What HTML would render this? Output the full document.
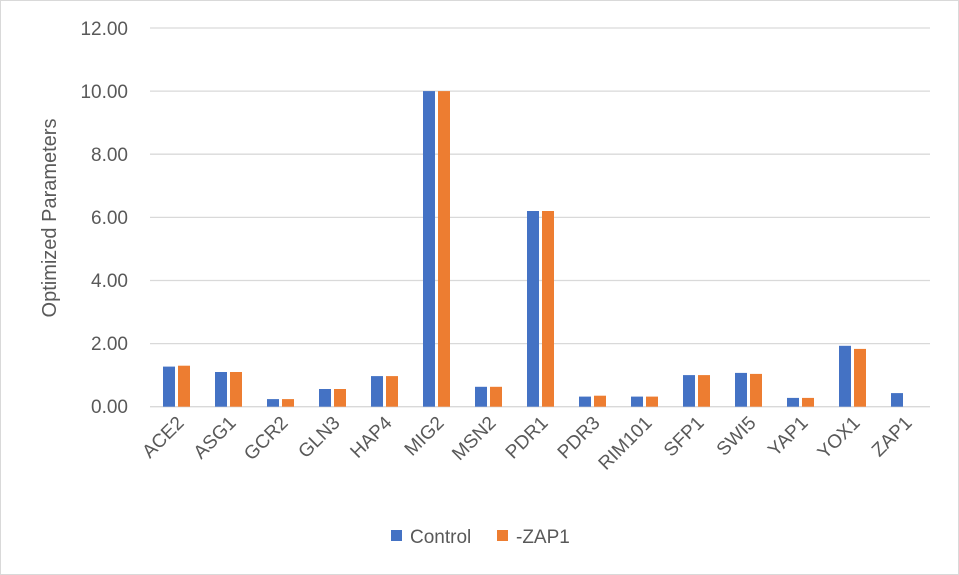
<!DOCTYPE html><html><head><meta charset="utf-8"><style>body{margin:0;background:#fff}svg{display:block}text{font-family:"Liberation Sans",sans-serif;fill:#595959}</style></head><body>
<svg width="959" height="575" xmlns="http://www.w3.org/2000/svg">
<rect x="0.5" y="0.5" width="958" height="574" fill="#fff" stroke="#d9d9d9"/>
<g stroke="#d9d9d9" stroke-width="1.3">
<line x1="150" x2="930" y1="28" y2="28"/><line x1="150" x2="930" y1="91.1" y2="91.1"/><line x1="150" x2="930" y1="154.2" y2="154.2"/><line x1="150" x2="930" y1="217.4" y2="217.4"/><line x1="150" x2="930" y1="280.5" y2="280.5"/><line x1="150" x2="930" y1="343.6" y2="343.6"/><line x1="150" x2="930" y1="406.7" y2="406.7"/>
</g>
<g font-size="19" text-anchor="end">
<text x="128" y="35">12.00</text><text x="128" y="98">10.00</text><text x="128" y="161">8.00</text><text x="128" y="224">6.00</text><text x="128" y="287">4.00</text><text x="128" y="350">2.00</text><text x="128" y="413">0.00</text>
</g>
<text transform="translate(56,218) rotate(-90)" font-size="20" text-anchor="middle">Optimized Parameters</text>
<g fill="#4472c4">
<rect x="163" y="366.6" width="12" height="40.1"/>
<rect x="215" y="372" width="12" height="34.7"/>
<rect x="267" y="399.1" width="12" height="7.6"/>
<rect x="319" y="389" width="12" height="17.7"/>
<rect x="371" y="376.1" width="12" height="30.6"/>
<rect x="423" y="91.1" width="12" height="315.6"/>
<rect x="475" y="386.8" width="12" height="19.9"/>
<rect x="527" y="211" width="12" height="195.7"/>
<rect x="579" y="396.6" width="12" height="10.1"/>
<rect x="631" y="396.6" width="12" height="10.1"/>
<rect x="683" y="375.1" width="12" height="31.6"/>
<rect x="735" y="372.9" width="12" height="33.8"/>
<rect x="787" y="397.9" width="12" height="8.8"/>
<rect x="839" y="345.8" width="12" height="60.9"/>
<rect x="891" y="393.1" width="12" height="13.6"/>
</g>
<g fill="#ed7d31">
<rect x="178" y="365.7" width="12" height="41"/>
<rect x="230" y="372" width="12" height="34.7"/>
<rect x="282" y="399.1" width="12" height="7.6"/>
<rect x="334" y="389" width="12" height="17.7"/>
<rect x="386" y="376.1" width="12" height="30.6"/>
<rect x="438" y="91.1" width="12" height="315.6"/>
<rect x="490" y="386.8" width="12" height="19.9"/>
<rect x="542" y="211" width="12" height="195.7"/>
<rect x="594" y="395.7" width="12" height="11"/>
<rect x="646" y="396.6" width="12" height="10.1"/>
<rect x="698" y="375.1" width="12" height="31.6"/>
<rect x="750" y="373.9" width="12" height="32.8"/>
<rect x="802" y="397.9" width="12" height="8.8"/>
<rect x="854" y="348.9" width="12" height="57.8"/>
</g>
<g font-size="19" text-anchor="end">
<text transform="translate(185,424) rotate(-45)">ACE2</text>
<text transform="translate(237,424) rotate(-45)">ASG1</text>
<text transform="translate(289,424) rotate(-45)">GCR2</text>
<text transform="translate(341,424) rotate(-45)">GLN3</text>
<text transform="translate(393,424) rotate(-45)">HAP4</text>
<text transform="translate(445,424) rotate(-45)">MIG2</text>
<text transform="translate(497,424) rotate(-45)">MSN2</text>
<text transform="translate(549,424) rotate(-45)">PDR1</text>
<text transform="translate(601,424) rotate(-45)">PDR3</text>
<text transform="translate(653,424) rotate(-45)">RIM101</text>
<text transform="translate(705,424) rotate(-45)">SFP1</text>
<text transform="translate(757,424) rotate(-45)">SWI5</text>
<text transform="translate(809,424) rotate(-45)">YAP1</text>
<text transform="translate(861,424) rotate(-45)">YOX1</text>
<text transform="translate(913,424) rotate(-45)">ZAP1</text>
</g>
<rect x="391" y="530" width="11" height="11" fill="#4472c4"/><text x="410" y="543" font-size="19">Control</text>
<rect x="497" y="530" width="11" height="11" fill="#ed7d31"/><text x="516" y="543" font-size="19">-ZAP1</text>
</svg></body></html>
